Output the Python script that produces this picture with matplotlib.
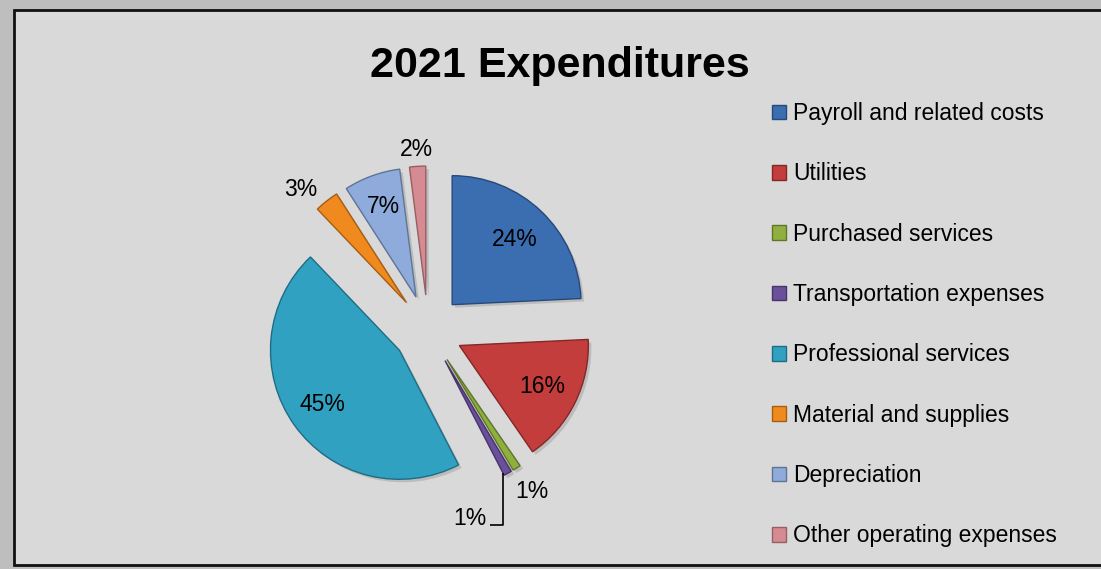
import matplotlib

matplotlib.use("Agg")
import matplotlib.pyplot as plt
import numpy as np
from matplotlib.patches import Rectangle, Wedge

CATEGORIES = [
    "Payroll and related costs",
    "Utilities",
    "Purchased services",
    "Transportation expenses",
    "Professional services",
    "Material and supplies",
    "Depreciation",
    "Other operating expenses",
]
SHARES = [24, 16, 1, 1, 45, 3, 7, 2]
PCT_LABELS = ["24%", "16%", "1%", "1%", "45%", "3%", "7%", "2%"]

COLORS = ["#3b6db1", "#c23d3b", "#8fb03e", "#6a4f9a", "#31a1c2", "#f08a1f", "#8eabdb", "#d68b92"]
EDGES = ["#27497a", "#832826", "#5f7629", "#46346a", "#1f6c84", "#a65d12", "#5f7494", "#955f64"]
# label placement from the (exploded) wedge apex: distance in pie radii, angle nudge in degrees
LABEL_DIST = [0.70, 0.72, 1.22, None, 0.73, 1.20, 0.75, 1.13]
LABEL_NUDGE = [0, 0, 0, 0, 0, 5, 0, 0]

W, H = 1101, 569
plt.rcParams["font.family"] = ["Liberation Sans", "DejaVu Sans"]

fig = plt.figure(figsize=(W / 100, H / 100), dpi=100)
fig.set_facecolor("#bebebe")
fig.patches.append(
    Rectangle((14 / W, 4 / H), 1.2, (565 - 10) / H, transform=fig.transFigure,
              facecolor="#d9d9d9", edgecolor="#111111", linewidth=2, zorder=-10)
)

# pie axes: 400x400 px box centred on the unexploded pie centre (428, 330)
cx, cy, half = 428, H - 330, 200
ax = fig.add_axes([(cx - half) / W, (cy - half) / H, 2 * half / W, 2 * half / H])
ax.patch.set_alpha(0)

R = 129 / half
wedges, _ = ax.pie(
    SHARES,
    colors=COLORS,
    startangle=90,
    counterclock=False,
    radius=R,
    explode=[35 / half] * len(SHARES),
    center=(0, 0),
    wedgeprops=dict(linewidth=1.0, zorder=3),
)
# pie() resets the limits to +-1.25; pin them so 1 data unit == `half` px
ax.set_xlim(-1, 1)
ax.set_ylim(-1, 1)
ax.set_aspect("equal")
ax.axis("off")

sh = 3 / half  # soft drop shadow, down-right
for w, ec in zip(wedges, EDGES):
    w.set_edgecolor(ec)
    ox, oy = w.center
    ax.add_patch(Wedge((ox + sh, oy - sh), R, w.theta1, w.theta2,
                       facecolor="#9a9a9a", edgecolor="none", alpha=0.45, zorder=2))

for w, lab, dist, nudge in zip(wedges, PCT_LABELS, LABEL_DIST, LABEL_NUDGE):
    th = np.deg2rad((w.theta1 + w.theta2) / 2 + nudge)
    ox, oy = w.center
    if dist is None:
        # leader line from the sliver tip straight down, then left
        tx, ty = ox + R * np.cos(th) - 0.025, oy + R * np.sin(th)
        ax.plot([tx, tx, tx - 0.065], [ty, ty - 0.26, ty - 0.26],
                color="black", linewidth=1.2, solid_capstyle="butt", zorder=4)
        ax.text(tx - 0.08, ty - 0.26, lab, ha="right", va="baseline", fontsize=16.5)
        continue
    ax.text(ox + dist * R * np.cos(th), oy + dist * R * np.sin(th), lab,
            ha="center", va="center", fontsize=16.5, zorder=5)

fig.text(560 / W, (H - 77) / H, "2021 Expenditures", ha="center", va="baseline",
         fontsize=31, fontweight="bold")

handles = [Rectangle((0, 0), 1, 1, facecolor=c, edgecolor=e, linewidth=1) for c, e in zip(COLORS, EDGES)]
fig.legend(
    handles,
    CATEGORIES,
    loc="upper left",
    bbox_to_anchor=(772 / W, (H - 102) / H),
    frameon=False,
    fontsize=16.5,
    handlelength=0.62,
    handleheight=0.62,
    handletextpad=0.3,
    labelspacing=1.63,
    borderpad=0,
    borderaxespad=0,
)

fig.savefig("out.png", dpi=100, facecolor=fig.get_facecolor())
